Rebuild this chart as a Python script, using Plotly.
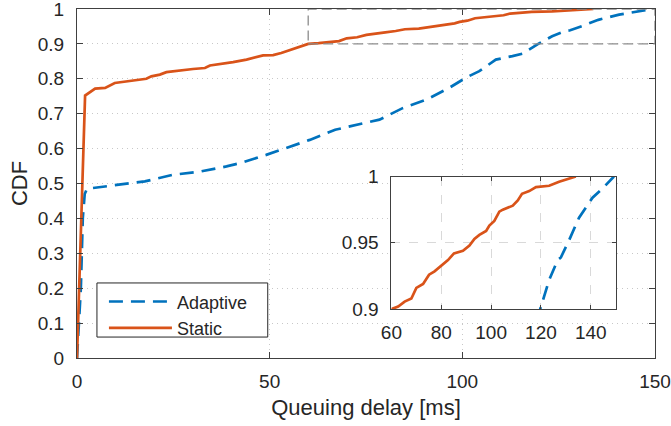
import plotly.graph_objects as go

# ---- data ----
adaptive_x = [0, 0.5, 1.0, 1.5, 2.0, 2.6, 6.8, 11.1, 17.6, 24.9, 31.9, 38.8, 42.2, 49.1,
              54.3, 60.4, 67.0, 73.0, 78.5, 84.5, 90.6, 96.6, 100.9, 104.4, 108.7, 113.0,
              115.6, 119.7, 123.3, 126.7, 128.0, 131.3, 135.3, 140.7, 144.7, 149.3]
adaptive_y = [0, 0.10, 0.20, 0.40, 0.47, 0.485, 0.491, 0.496, 0.506, 0.525, 0.534, 0.549,
              0.558, 0.582, 0.601, 0.625, 0.654, 0.669, 0.683, 0.716, 0.740, 0.774, 0.803,
              0.822, 0.855, 0.865, 0.872, 0.900, 0.922, 0.937, 0.939, 0.952, 0.969, 0.984,
              0.991, 1.0]

static_x = [0, 0.7, 1.5, 2.1, 4.7, 7.3, 9.8, 12.9, 18.0, 19.3, 21.5, 23.2, 26.7, 30.1,
            33.2, 34.5, 40.5, 44.0, 48.3, 50.9, 53.0, 56.9, 60.0, 62.7, 65.3, 68.0, 70.0,
            72.7, 75.1, 77.3, 80.0, 82.7, 85.1, 88.7, 91.3, 93.3, 95.3, 98.0, 99.3, 101.3,
            103.3, 104.7, 108.7, 110.7, 112.4, 115.3, 118.0, 123.3, 127.3, 130.7, 134.0]
static_y = [0, 0.25, 0.52, 0.752, 0.772, 0.774, 0.788, 0.793, 0.800, 0.807, 0.812, 0.819,
            0.824, 0.828, 0.831, 0.838, 0.848, 0.855, 0.867, 0.868, 0.874, 0.889, 0.900,
            0.902, 0.9057, 0.908, 0.916, 0.919, 0.926, 0.9285, 0.933, 0.937, 0.942, 0.944,
            0.948, 0.953, 0.956, 0.959, 0.963, 0.9665, 0.9735, 0.975, 0.978, 0.982, 0.987,
            0.989, 0.992, 0.993, 0.996, 0.998, 1.0]

series_names = ["Adaptive", "Static"]
main_x_ticks = [0, 50, 100, 150]
inset_x_ticks = [60, 80, 100, 120, 140]
inset_y_ticks = [0.9, 0.95, 1]
inset_x_range = [60, 150]
inset_y_range = [0.9, 1.0]

# ---- styles ----
BLUE = "#0072BD"
ORANGE = "#D95319"
AX = "#404040"
TXT = "#262626"
FONT = "Liberation Sans"
DASH = "14px,8px"
LW = 2.7

fig = go.Figure()

fig.add_trace(go.Scatter(x=adaptive_x, y=adaptive_y, mode="lines", name=series_names[0],
                         line=dict(color=BLUE, width=LW, dash=DASH),
                         xaxis="x", yaxis="y"))
fig.add_trace(go.Scatter(x=static_x, y=static_y, mode="lines", name=series_names[1],
                         line=dict(color=ORANGE, width=LW),
                         xaxis="x", yaxis="y"))
fig.add_trace(go.Scatter(x=adaptive_x, y=adaptive_y, mode="lines", showlegend=False,
                         line=dict(color=BLUE, width=LW, dash=DASH),
                         xaxis="x2", yaxis="y2"))
fig.add_trace(go.Scatter(x=static_x, y=static_y, mode="lines", showlegend=False,
                         line=dict(color=ORANGE, width=LW),
                         xaxis="x2", yaxis="y2"))

axis_common = dict(showline=True, linecolor=AX, linewidth=1, mirror="ticks",
                   ticks="inside", tickcolor=AX, zeroline=False, automargin=False,
                   ticklabeloverflow="allow",
                   tickfont=dict(family=FONT, size=19, color=TXT))

fig.update_layout(
    width=671, height=426,
    margin=dict(l=77, r=16, t=9, b=68, autoexpand=False),
    paper_bgcolor="white", plot_bgcolor="white",
    font=dict(family=FONT, size=19, color=TXT),
    xaxis=dict(domain=[0, 1], range=[0, 150], tickvals=main_x_ticks,
               showgrid=True, gridcolor="#c8c8c8", griddash="1px,4px", gridwidth=1,
               ticklen=6, ticklabelstandoff=6,
               title=dict(text="Queuing delay [ms]", font=dict(family=FONT, size=22, color=TXT),
                          standoff=8),
               **axis_common),
    yaxis=dict(domain=[0, 1], range=[0, 1], dtick=0.1,
               showgrid=True, gridcolor="#c8c8c8", griddash="1px,4px", gridwidth=1,
               ticklen=6, ticklabelstandoff=8,
               title=dict(text="CDF", font=dict(family=FONT, size=22, color=TXT), standoff=4),
               **axis_common),
    xaxis2=dict(domain=[0.544, 0.932], range=inset_x_range, tickvals=inset_x_ticks,
                anchor="y2", showgrid=True, gridcolor="#d9d9d9", griddash="dash",
                ticklen=4, ticklabelstandoff=6, **axis_common),
    yaxis2=dict(domain=[0.14, 0.52], range=inset_y_range, tickvals=inset_y_ticks,
                ticktext=["0.9", "0.95", "1"],
                anchor="x2", showgrid=True, gridcolor="#d9d9d9", griddash="dash",
                ticklen=4, ticklabelstandoff=8, **axis_common),
    legend=dict(x=0.0466, y=0.214, xanchor="left", yanchor="top",
                bgcolor="rgba(0,0,0,0)", borderwidth=0,
                font=dict(family=FONT, size=18, color=TXT),
                itemwidth=63, tracegroupgap=0),
    shapes=[
        # zoom region marker (same ranges as the inset axes)
        dict(type="rect", xref="x", yref="y",
             x0=inset_x_range[0], x1=inset_x_range[1],
             y0=inset_y_range[0], y1=inset_y_range[1],
             line=dict(color="#8c8c8c", width=1.3, dash="10px,5px"),
             layer="above"),
        # legend frame
        dict(type="rect", xref="paper", yref="paper",
             x0=0.0345, x1=0.330, y0=0.06, y1=0.215,
             line=dict(color=TXT, width=1), fillcolor="white", layer="above"),
    ],
)

fig.write_html("out.html", config={"displayModeBar": False},
               post_script="document.body.style.margin='0';document.body.style.overflow='hidden';")
